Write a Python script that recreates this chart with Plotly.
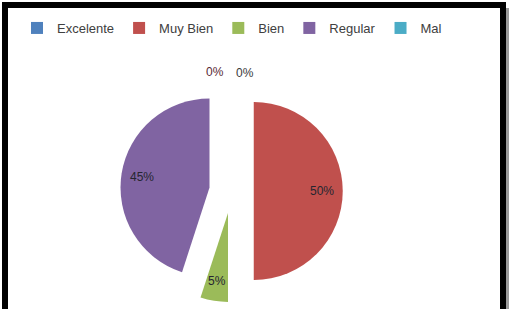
import math
import plotly.graph_objects as go

labels = ["Excelente", "Muy Bien", "Bien", "Regular", "Mal"]
values = [0, 50, 5, 45, 0]
colors = ["#4F81BD", "#C0504D", "#9BBB59", "#8064A2", "#4BACC6"]

W, H = 514, 309
cx, cy, r, pull = 231.5, 191.0, 89.0, 0.25
half = r * (1 + pull)
FONT = "Liberation Sans, Arial, sans-serif"

fig = go.Figure(go.Pie(
    labels=labels,
    values=values,
    marker=dict(colors=colors, line=dict(width=0)),
    sort=False,
    direction="clockwise",
    rotation=0,
    pull=[pull] * len(values),
    textinfo="none",
    hoverinfo="label+percent",
    domain=dict(x=[(cx - half) / W, (cx + half) / W],
                y=[(H - cy - half) / H, (H - cy + half) / H]),
))

# percentage labels placed along each slice's bisector
total = sum(values)
start = 0.0
zero_pos = {0: (215, 72), 4: (245, 73)}
zero_col = {0: "#5a2a35", 4: "#3a3a3a"}
for i, v in enumerate(values):
    frac = v / total
    if v == 0:
        x, y = zero_pos[i]
        col = zero_col[i]
    else:
        mid = (start + frac / 2) * 2 * math.pi
        d = pull * r + 0.77 * r
        x = cx + d * math.sin(mid)
        y = cy - d * math.cos(mid)
        col = "#262630"
    fig.add_annotation(x=x / W, y=1 - y / H, xref="paper", yref="paper",
                       xanchor="center", yanchor="middle",
                       text=f"{round(frac * 100)}%", showarrow=False,
                       font=dict(family=FONT, size=12, color=col))
    start += frac

# black frame around the chart
fig.add_shape(type="rect", xref="paper", yref="paper",
              x0=5 / W, x1=503 / W, y0=-0.1, y1=1 - 5 / H,
              line=dict(color="black", width=6), fillcolor="rgba(0,0,0,0)")
fig.add_shape(type="line", xref="paper", yref="paper",
              x0=507.5 / W, x1=507.5 / W, y0=-0.1, y1=1 - 8 / H,
              line=dict(color="#9a9a9a", width=3))

fig.update_layout(
    width=W, height=H,
    margin=dict(l=0, r=0, t=0, b=0),
    paper_bgcolor="white",
    plot_bgcolor="white",
    showlegend=True,
    legend=dict(orientation="h", x=232 / W, xanchor="center", y=1 - 28 / H, yanchor="middle",
                font=dict(family=FONT, size=13, color="#404040"),
                itemwidth=30, tracegroupgap=0, traceorder="normal"),
)

fig.write_html("out.html")
